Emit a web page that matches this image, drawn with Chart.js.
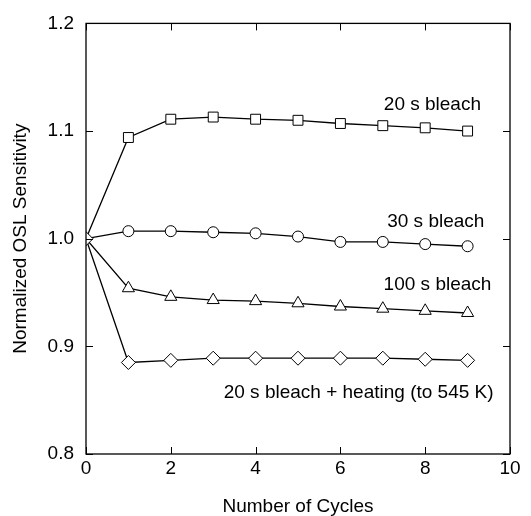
<!DOCTYPE html>
<html>
<head>
<meta charset="utf-8">
<script src="https://cdn.jsdelivr.net/npm/chart.js@4/dist/chart.umd.min.js"></script>
<style>
  html, body { margin: 0; padding: 0; background: #fff; }
  #wrap { width: 531px; height: 516px; }
</style>
</head>
<body>
<div id="wrap"><canvas id="oslChart" width="531" height="516"></canvas></div>
<script>
// Data
const cycles = [0, 1, 2, 3, 4, 5, 6, 7, 8, 9];
const bleach20 = [1.0, 1.094, 1.111, 1.113, 1.111, 1.110, 1.107, 1.105, 1.103, 1.100];
const bleach30 = [1.0, 1.007, 1.007, 1.006, 1.005, 1.002, 0.997, 0.997, 0.995, 0.993];
const bleach100 = [1.0, 0.954, 0.946, 0.943, 0.942, 0.940, 0.937, 0.935, 0.933, 0.931];
const bleachHeat = [1.0, 0.885, 0.887, 0.889, 0.889, 0.889, 0.889, 0.889, 0.888, 0.887];
const xTicks = [0, 2, 4, 6, 8, 10];
const yTicks = [0.8, 0.9, 1.0, 1.1, 1.2];

// Curve labels: [text, x value, y value]
const curveLabels = [
    ['20 s bleach', 8.17, 1.124],
    ['30 s bleach', 8.25, 1.0155],
    ['100 s bleach', 8.29, 0.957],
    ['20 s bleach + heating (to 545 K)', 6.43, 0.8565]
];

const FONT = '"Liberation Sans", Arial, Helvetica, sans-serif';

function toPoints(values) {
    return cycles.map((c, i) => ({ x: c, y: values[i] }));
}

// hideFirst: the shared start point is only shown by the diamond
function series(label, values, style, radius, order, hideFirst) {
    return {
        label: label,
        data: toPoints(values),
        borderColor: '#000',
        borderWidth: 1.3,
        pointStyle: style,
        pointRadius: hideFirst ? cycles.map((c, i) => (i === 0 ? 0 : radius)) : radius,
        pointBackgroundColor: '#fff',
        pointBorderColor: '#000',
        pointBorderWidth: 1,
        tension: 0,
        fill: false,
        order: order
    };
}

// Frame, inward ticks on all four sides, and curve labels
const framePlugin = {
    id: 'frame',
    afterDatasetsDraw(chart) {
        const { ctx, chartArea: a, scales } = chart;
        const tick = 7;
        ctx.save();
        ctx.strokeStyle = '#000';
        ctx.lineWidth = 1.3;
        ctx.strokeRect(a.left, a.top, a.right - a.left, a.bottom - a.top);
        ctx.lineWidth = 1;
        ctx.beginPath();
        xTicks.forEach(v => {
            const px = Math.round(scales.x.getPixelForValue(v)) + 0.5;
            ctx.moveTo(px, a.bottom); ctx.lineTo(px, a.bottom - tick);
            ctx.moveTo(px, a.top); ctx.lineTo(px, a.top + tick);
        });
        yTicks.forEach(v => {
            const py = Math.round(scales.y.getPixelForValue(v)) + 0.5;
            ctx.moveTo(a.left, py); ctx.lineTo(a.left + tick, py);
            ctx.moveTo(a.right, py); ctx.lineTo(a.right - tick, py);
        });
        ctx.stroke();

        ctx.fillStyle = '#000';
        ctx.font = '19px ' + FONT;
        ctx.textAlign = 'center';
        ctx.textBaseline = 'middle';
        curveLabels.forEach(([text, xv, yv]) => {
            ctx.fillText(text, scales.x.getPixelForValue(xv), scales.y.getPixelForValue(yv));
        });
        ctx.restore();
    }
};

const ctx = document.getElementById('oslChart').getContext('2d');
const oslChart = new Chart(ctx, {
    type: 'line',
    data: {
        datasets: [
            series('20 s bleach + heating', bleachHeat, 'rectRot', 7, 0, false),
            series('100 s bleach', bleach100, 'triangle', 7, 1, true),
            series('30 s bleach', bleach30, 'circle', 5.5, 2, true),
            series('20 s bleach', bleach20, 'rect', 7, 3, true)
        ]
    },
    options: {
        responsive: false,
        animation: false,
        layout: { padding: { top: 23, right: 21, left: 0, bottom: 0 } },
        plugins: {
            legend: { display: false },
            tooltip: { enabled: false }
        },
        scales: {
            x: {
                type: 'linear',
                min: 0,
                max: 10,
                afterFit: scale => { scale.height = 62; },
                afterBuildTicks: scale => { scale.ticks = xTicks.map(v => ({ value: v })); },
                grid: { display: false, drawTicks: false },
                border: { display: false },
                ticks: {
                    color: '#000',
                    padding: 3,
                    maxRotation: 0,
                    font: { family: FONT, size: 19 }
                },
                title: {
                    display: true,
                    text: 'Number of Cycles',
                    color: '#000',
                    padding: { top: 0, bottom: 0 },
                    font: { family: FONT, size: 19, lineHeight: 1.0 }
                }
            },
            y: {
                type: 'linear',
                min: 0.8,
                max: 1.2,
                afterFit: scale => { scale.width = 86; },
                afterBuildTicks: scale => { scale.ticks = yTicks.map(v => ({ value: v })); },
                grid: { display: false, drawTicks: false },
                border: { display: false },
                ticks: {
                    color: '#000',
                    padding: 12,
                    font: { family: FONT, size: 19 },
                    callback: v => v.toFixed(1)
                },
                title: {
                    display: true,
                    text: 'Normalized OSL Sensitivity',
                    color: '#000',
                    padding: { top: 11, bottom: 0 },
                    font: { family: FONT, size: 19, lineHeight: 1.0 }
                }
            }
        }
    },
    plugins: [framePlugin]
});
</script>
</body>
</html>
